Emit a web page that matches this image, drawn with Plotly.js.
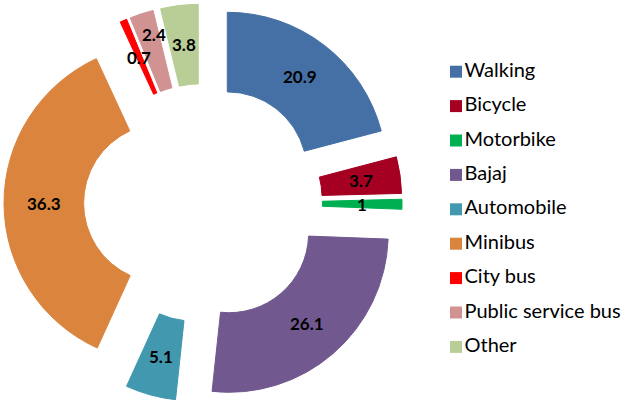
<!DOCTYPE html>
<html><head><meta charset="utf-8">
<script src="https://cdn.plot.ly/plotly-3.0.1.min.js"></script>
<style>html,body{margin:0;padding:0;background:#fff}</style>
</head><body><div id="chart" style="width:624px;height:403px"></div>
<script>
const categories = ["Walking","Bicycle","Motorbike","Bajaj","Automobile","Minibus","City bus","Public service bus","Other"];
const shares = [20.9, 3.7, 1, 26.1, 5.1, 36.3, 0.7, 2.4, 3.8];
const colors = ["#4570A6","#A50021","#00B050","#71588F","#4198AF","#DB843D","#FF0000","#D09392","#B9CE96"];
// small vertical nudge of labels (px) to keep crowded labels apart
const labelNudge = [0, 0, 0, 0, 0, 0, 0, 17, 0];

const W = 624, H = 403;
const PULL = 0.25, HOLE = 0.5;
// pie domain in pixels
const dom = {x0: 4, x1: 402, y0: 4, y1: 402};
const R = Math.min(dom.x1 - dom.x0, dom.y1 - dom.y0) / (2 * (1 + PULL));
const halfW = (dom.x1 - dom.x0) / 2, halfH = (dom.y1 - dom.y0) / 2;

const pie = {
  type: 'pie',
  labels: categories,
  values: shares,
  sort: false,
  direction: 'clockwise',
  rotation: 0,
  hole: HOLE,
  pull: shares.map(() => PULL),
  marker: {colors: colors, line: {color: colors, width: 1}},
  textinfo: 'none',
  domain: {x: [dom.x0 / W, dom.x1 / W], y: [1 - dom.y1 / H, 1 - dom.y0 / H]},
  showlegend: false,
  hoverinfo: 'label+value'
};

// slice value labels at each pulled slice's centroid (derived from the data)
const total = shares.reduce((a, b) => a + b, 0);
let cum = 0;
const annotations = [];
shares.forEach((v, i) => {
  const mid = (cum + v / 2) / total * 2 * Math.PI;
  cum += v;
  const rr = R * ((1 + HOLE) / 2 + PULL);
  annotations.push({
    xref: 'x2', yref: 'y2',
    x: rr * Math.sin(mid), y: rr * Math.cos(mid),
    yshift: labelNudge[i],
    text: String(v), showarrow: false,
    xanchor: 'center', yanchor: 'middle',
    font: {family: 'Lato, sans-serif', size: 17, color: '#000', weight: 'bold'}
  });
});

const anchorTrace = {
  type: 'scatter', mode: 'markers', x: [0], y: [0],
  marker: {opacity: 0}, xaxis: 'x2', yaxis: 'y2',
  hoverinfo: 'skip', showlegend: false
};

const legendTrace = {
  type: 'scatter',
  mode: 'markers+text',
  x: categories.map(() => 36),
  y: categories.map((c, i) => i),
  text: categories,
  textposition: 'middle right',
  textfont: {family: 'Lato, sans-serif', size: 20, color: '#000'},
  marker: {symbol: 'square', size: 12, color: colors},
  cliponaxis: false,
  hoverinfo: 'skip',
  showlegend: false
};

const layout = {
  width: W, height: H,
  margin: {l: 0, r: 0, t: 0, b: 0},
  paper_bgcolor: '#fff', plot_bgcolor: 'rgba(0,0,0,0)',
  xaxis: {domain: [420 / W, 1], range: [0, 204], visible: false, fixedrange: true},
  yaxis: {range: [(H - 71.7) / 34.4, -71.7 / 34.4], visible: false, fixedrange: true},
  xaxis2: {domain: [dom.x0 / W, dom.x1 / W], range: [-halfW, halfW], visible: false, fixedrange: true},
  yaxis2: {domain: [1 - dom.y1 / H, 1 - dom.y0 / H], range: [-halfH, halfH], visible: false, fixedrange: true},
  annotations: annotations,
  showlegend: false
};

Plotly.newPlot('chart', [pie, anchorTrace, legendTrace], layout, {displayModeBar: false, staticPlot: true});
</script></body></html>
